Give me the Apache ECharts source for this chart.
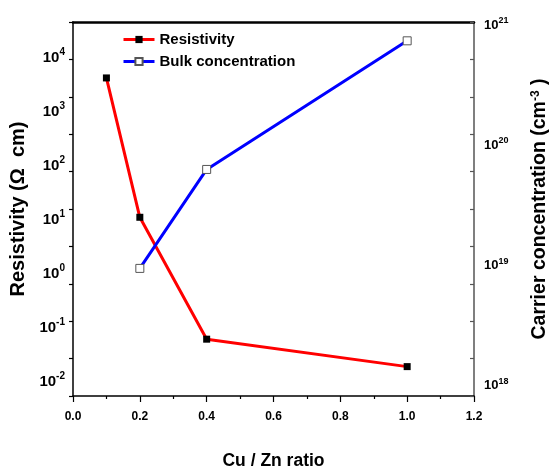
<!DOCTYPE html>
<html>
<head>
<meta charset="utf-8">
<script src="https://cdn.jsdelivr.net/npm/echarts@6/dist/echarts.min.js"></script>
<style>
  html, body { margin: 0; padding: 0; background: #fff; }
  #chart { width: 558px; height: 475px; }
</style>
</head>
<body>
<div id="chart"></div>
<script>
// Cu/Zn ratio of the films
const cuZnRatio = [0.1, 0.2, 0.4, 1.0];
// Resistivity (Ω cm) at each ratio
const resistivity = [4000, 10.5, 0.058, 0.018];
// Bulk carrier concentration (cm^-3), measured from 0.2 upward
const carrierRatio = [0.2, 0.4, 1.0];
const carrierConc = [9.3e18, 6.2e19, 7.3e20];

// Axis ranges (exponents of ten)
const resExpRange = [-2.289, 4.638];
const carExpRange = [17.906, 21.02];
const xTicks = [0, 0.2, 0.4, 0.6, 0.8, 1.0, 1.2];

const FONT = '"Liberation Sans", Arial, sans-serif';

function powLabel(v) {
  const e = Math.log10(v);
  const r = Math.round(e);
  if (Math.abs(e - r) > 1e-6) return '';
  return '{b|10}{s|' + r + '}';
}

const chart = echarts.init(document.getElementById('chart'), null, { renderer: 'canvas' });

chart.setOption({
  animation: false,
  backgroundColor: '#fff',
  grid: { left: 73, right: 72, top: 22, bottom: 72, containLabel: false },
  legend: {
    data: ['Resistivity', 'Bulk concentration'],
    orient: 'vertical',
    left: 122,
    top: 32,
    padding: 0,
    itemWidth: 31,
    itemHeight: 9,
    itemGap: 7,
    lineStyle: { width: 3 },
    textStyle: { fontFamily: FONT, fontWeight: 'bold', fontSize: 15, color: '#000' }
  },
  xAxis: [
    {
      type: 'value',
      position: 'bottom',
      min: xTicks[0],
      max: xTicks[xTicks.length - 1],
      interval: 0.2,
      name: 'Cu / Zn ratio',
      nameLocation: 'middle',
      nameGap: 56,
      nameTextStyle: { fontFamily: FONT, fontWeight: 'bold', fontSize: 17.5, color: '#000' },
      axisLine: { onZero: false, lineStyle: { color: '#000', width: 1.5 } },
      axisTick: { inside: false, length: 6, lineStyle: { color: '#000', width: 1.2 } },
      minorTick: { show: true, splitNumber: 2, length: 3, lineStyle: { color: '#000', width: 1.2 } },
      axisLabel: {
        margin: 15,
        fontFamily: FONT, fontWeight: 'bold', fontSize: 12, color: '#000',
        formatter: v => v.toFixed(1)
      },
      splitLine: { show: false }
    },
    {
      type: 'value',
      position: 'top',
      min: 0,
      max: 1.2,
      axisLine: { show: true, onZero: false, lineStyle: { color: '#000', width: 2.5 } },
      axisTick: { show: false },
      axisLabel: { show: false },
      splitLine: { show: false }
    }
  ],
  yAxis: [
    {
      type: 'log',
      logBase: 10,
      position: 'left',
      min: Math.pow(10, resExpRange[0]),
      max: Math.pow(10, resExpRange[1]),
      name: 'Resistivity (Ω  cm)',
      nameLocation: 'middle',
      nameRotate: 90,
      nameGap: 45,
      nameTextStyle: { fontFamily: FONT, fontWeight: 'bold', fontSize: 20, color: '#000' },
      axisLine: { show: true, onZero: false, lineStyle: { color: '#000', width: 1.5 } },
      axisTick: { show: false },
      splitLine: { show: false },
      axisLabel: {
        margin: 8,
        padding: [2, 0, 0, 0],
        showMinLabel: false,
        showMaxLabel: false,
        formatter: powLabel,
        rich: {
          b: { fontFamily: FONT, fontWeight: 'bold', fontSize: 15, color: '#000', lineHeight: 20 },
          s: { fontFamily: FONT, fontWeight: 'bold', fontSize: 10, color: '#000', lineHeight: 10, verticalAlign: 'top' }
        }
      }
    },
    {
      type: 'log',
      logBase: 10,
      position: 'right',
      min: Math.pow(10, carExpRange[0]),
      max: Math.pow(10, carExpRange[1]),
      name: 'Carrier concentration (cm{sup|-3} )',
      nameLocation: 'middle',
      nameRotate: 90,
      nameGap: 56,
      nameTextStyle: {
        fontFamily: FONT, fontWeight: 'bold', fontSize: 19.5, color: '#000',
        rich: {
          sup: { fontFamily: FONT, fontWeight: 'bold', fontSize: 12, color: '#000', lineHeight: 10, verticalAlign: 'top' }
        }
      },
      axisLine: { show: true, onZero: false, lineStyle: { color: '#555', width: 1.5 } },
      axisTick: { show: false },
      splitLine: { show: false },
      axisLabel: {
        margin: 10,
        padding: [2, 0, 0, 0],
        showMinLabel: false,
        showMaxLabel: false,
        formatter: powLabel,
        rich: {
          b: { fontFamily: FONT, fontWeight: 'bold', fontSize: 13, color: '#000', lineHeight: 18 },
          s: { fontFamily: FONT, fontWeight: 'bold', fontSize: 9, color: '#000', lineHeight: 9, verticalAlign: 'top' }
        }
      }
    },
    {
      // evenly spaced tick marks along the left frame
      type: 'value',
      position: 'left',
      min: 0, max: 10, interval: 1,
      axisLine: { show: false, onZero: false },
      axisTick: { show: true, inside: false, length: 4, lineStyle: { color: '#000', width: 1.2 } },
      axisLabel: { show: false },
      splitLine: { show: false }
    },
    {
      // evenly spaced tick marks along the right frame
      type: 'value',
      position: 'right',
      min: 0, max: 10, interval: 1,
      axisLine: { show: false, onZero: false },
      axisTick: { show: true, inside: true, length: 4, lineStyle: { color: '#555', width: 1.2 } },
      axisLabel: { show: false },
      splitLine: { show: false }
    }
  ],
  series: [
    {
      name: 'Resistivity',
      type: 'line',
      xAxisIndex: 0,
      yAxisIndex: 0,
      data: cuZnRatio.map((x, i) => [x, resistivity[i]]),
      symbol: 'rect',
      symbolSize: 7,
      showAllSymbol: true,
      lineStyle: { color: '#ff0000', width: 3 },
      itemStyle: { color: '#000', borderColor: '#000', borderWidth: 0 },
      z: 3
    },
    {
      name: 'Bulk concentration',
      type: 'line',
      xAxisIndex: 0,
      yAxisIndex: 1,
      data: carrierRatio.map((x, i) => [x, carrierConc[i]]),
      symbol: 'rect',
      symbolSize: 8,
      showAllSymbol: true,
      lineStyle: { color: '#0000ff', width: 3 },
      itemStyle: { color: '#fff', borderColor: '#555', borderWidth: 1 },
      z: 4
    }
  ]
});
</script>
</body>
</html>
